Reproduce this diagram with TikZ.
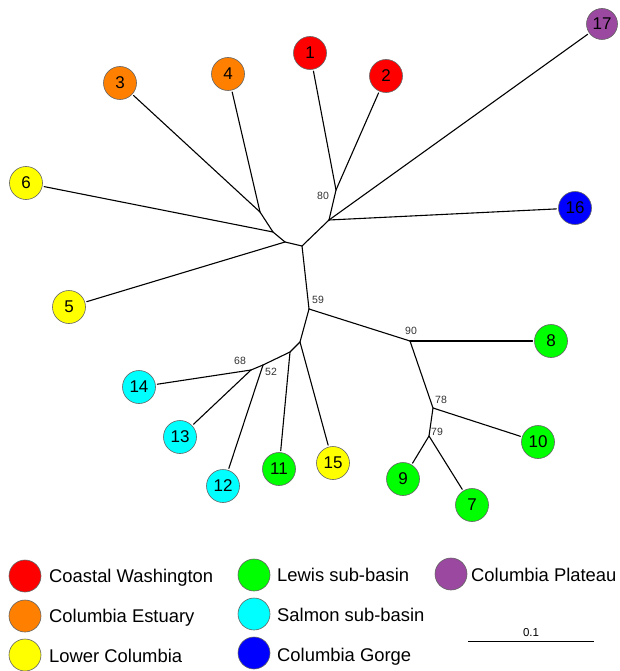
\documentclass[tikz,border=0pt]{standalone}
\usepackage{fontspec}
\setmainfont{Liberation Sans}
\definecolor{cRed}{RGB}{255,0,0}
\definecolor{cOrange}{RGB}{255,128,0}
\definecolor{cYellow}{RGB}{255,255,0}
\definecolor{cGreen}{RGB}{0,255,0}
\definecolor{cCyan}{RGB}{0,255,255}
\definecolor{cBlue}{RGB}{0,0,255}
\definecolor{cPurple}{RGB}{155,72,160}
\definecolor{rim}{RGB}{100,100,100}
\begin{document}
\begin{tikzpicture}[x=1pt,y=-1pt,
  leaf/.style={circle, draw=rim, line width=0.6pt, minimum size=33pt, inner sep=0pt, outer sep=2pt,
    font=\fontsize{17}{17}\selectfont},
  keydot/.style={circle, draw=rim, line width=0.6pt, minimum size=32pt, inner sep=0pt},
  keytext/.style={anchor=base west, inner sep=0pt, font=\fontsize{18.4}{20}\selectfont},
  br/.style={line width=1.1pt, line cap=round},
  boot/.style={font=\fontsize{10.5}{11}\selectfont, text=black!80, inner sep=0pt}
]
\useasboundingbox (0,0) rectangle (620,671);

% leaves
\node[leaf, fill=cRed]    (n1)  at (310,53)  {1};
\node[leaf, fill=cRed]    (n2)  at (386,76)  {2};
\node[leaf, fill=cOrange] (n3)  at (120,83)  {3};
\node[leaf, fill=cOrange] (n4)  at (228,74)  {4};
\node[leaf, fill=cYellow] (n5)  at (69,307)  {5};
\node[leaf, fill=cYellow] (n6)  at (26,183)  {6};
\node[leaf, fill=cGreen]  (n7)  at (472,505) {7};
\node[leaf, fill=cGreen]  (n8)  at (551,341) {8};
\node[leaf, fill=cGreen]  (n9)  at (403,479) {9};
\node[leaf, fill=cGreen]  (n10) at (538,442) {10};
\node[leaf, fill=cGreen]  (n11) at (279,469) {11};
\node[leaf, fill=cCyan]   (n12) at (223,486) {12};
\node[leaf, fill=cCyan]   (n13) at (180,437) {13};
\node[leaf, fill=cCyan]   (n14) at (139,387) {14};
\node[leaf, fill=cYellow] (n15) at (333,463) {15};
\node[leaf, fill=cBlue]   (n16) at (575,208) {16};
\node[leaf, fill=cPurple, minimum size=31pt] (n17) at (602,24) {17};

% internal nodes
\coordinate (A) at (329,220);
\coordinate (B) at (336,190);
\coordinate (C) at (302,246);
\coordinate (D) at (285,242);
\coordinate (E) at (273,232);
\coordinate (F) at (260,212);
\coordinate (G) at (309,309);
\coordinate (H) at (410,341);
\coordinate (I) at (300,342);
\coordinate (J) at (433,408);
\coordinate (K) at (290,352);
\coordinate (L) at (263,365);
\coordinate (M) at (251,370);
\coordinate (N) at (429,436);

% branches
\draw[br] (B) -- (n1);
\draw[br] (B) -- (n2);
\draw[br] (A) -- (B);
\draw[br] (A) -- (n17);
\draw[br] (A) -- (n16);
\draw[br] (C) -- (A);
\draw[br] (F) -- (n3);
\draw[br] (F) -- (n4);
\draw[br] (E) -- (F);
\draw[br] (E) -- (n6);
\draw[br] (D) -- (E);
\draw[br] (D) -- (n5);
\draw[br] (C) -- (D);
\draw[br] (C) -- (G);
\draw[br] (G) -- (H);
\draw[br] (H) -- (n8);
\draw[br] (H) -- (J);
\draw[br] (J) -- (n10);
\draw[br] (J) -- (N);
\draw[br] (N) -- (n9);
\draw[br] (N) -- (n7);
\draw[br] (G) -- (I);
\draw[br] (I) -- (n15);
\draw[br] (I) -- (K);
\draw[br] (K) -- (n11);
\draw[br] (K) -- (L);
\draw[br] (L) -- (n12);
\draw[br] (L) -- (M);
\draw[br] (M) -- (n14);
\draw[br] (M) -- (n13);

% bootstrap values
\node[boot] (b80) at (323,196) {80};
\node[boot] (b59) at (318,300) {59};
\node[boot] (b90) at (411,331) {90};
\node[boot] (b68) at (240,361) {68};
\node[boot] (b52) at (271,372) {52};
\node[boot] (b78) at (441,400) {78};
\node[boot] (b79) at (437,432) {79};

% legend
\node[keydot, fill=cRed]    (k1) at (25,576)  {};
\node[keydot, fill=cOrange] (k2) at (25,616)  {};
\node[keydot, fill=cYellow] (k3) at (25,655)  {};
\node[keydot, fill=cGreen]  (k4) at (254,575) {};
\node[keydot, fill=cCyan]   (k5) at (254,614) {};
\node[keydot, fill=cBlue]   (k6) at (254,653) {};
\node[keydot, fill=cPurple] (k7) at (451,574) {};
\node[keytext] (t1) at (49,582)  {Coastal Washington};
\node[keytext] (t2) at (49,622)  {Columbia Estuary};
\node[keytext] (t3) at (49,662)  {Lower Columbia};
\node[keytext] (t4) at (277,581) {Lewis sub-basin};
\node[keytext] (t5) at (277,621) {Salmon sub-basin};
\node[keytext] (t6) at (277,661) {Columbia Gorge};
\node[keytext] (t7) at (471,581) {Columbia Plateau};

% scale bar
\coordinate (s1) at (468,641);
\coordinate (s2) at (594,641);
\draw[line width=1pt] (s1) -- (s2);
\node[font=\fontsize{11.5}{12}\selectfont, inner sep=0pt] (sl) at (531,633) {0.1};
\end{tikzpicture}
\end{document}
